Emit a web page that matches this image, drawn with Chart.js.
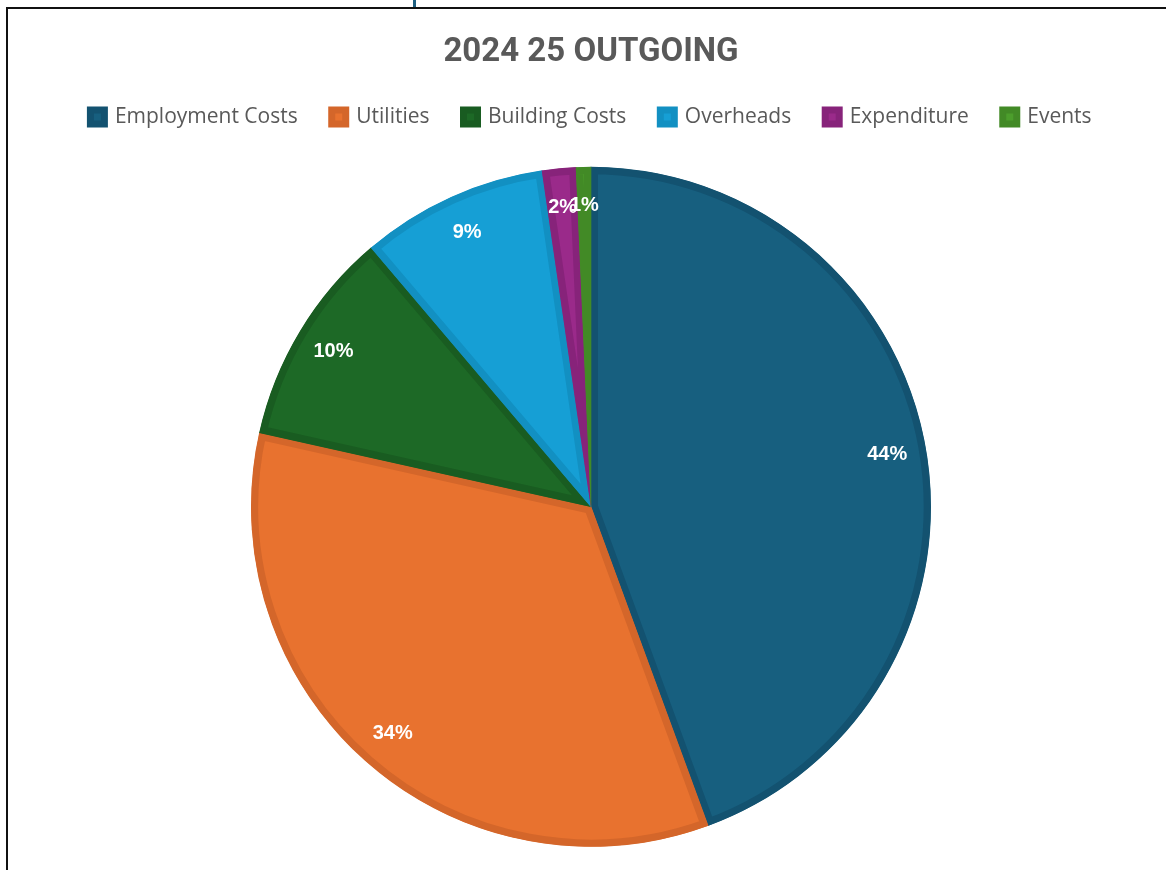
<!DOCTYPE html>
<html>
<head>
<meta charset="utf-8">
<script src="https://cdn.jsdelivr.net/npm/chart.js@4.4.1/dist/chart.umd.min.js"></script>
<style>
    html, body { margin: 0; padding: 0; background: #fff; }
    #wrap { position: relative; width: 1166px; height: 870px; overflow: hidden; }
    #frame { position: absolute; left: 6px; top: 7px; width: 1200px; height: 900px;
             border-left: 2px solid #111; border-top: 2px solid #111; }
    #tick { position: absolute; left: 413px; top: 0; width: 3px; height: 7px; background: #1d5f80; }
    #outgoingChart { position: absolute; left: 0; top: 0; }
</style>
</head>
<body>
<div id="wrap">
    <div id="frame"></div>
    <div id="tick"></div>
    <canvas id="outgoingChart" width="1166" height="880"></canvas>
</div>
<script>
const categories = ["Employment Costs", "Utilities", "Building Costs", "Overheads", "Expenditure", "Events"];
const outgoingShare = [44.4, 34.1, 10.3, 8.9, 1.6, 0.7];
const fillColours = ["#175f7f", "#e8722f", "#1d6926", "#169fd5", "#9a2a8a", "#4c9e2c"];
const edgeColours = ["#135270", "#d4662a", "#195c21", "#1290c2", "#87237a", "#428a26"];

// writes the percentage on each slice, like the spreadsheet data labels
const sliceLabels = {
    id: "sliceLabels",
    afterDatasetsDraw(chart) {
        const ctx = chart.ctx;
        const meta = chart.getDatasetMeta(0);
        const values = chart.data.datasets[0].data;
        const total = values.reduce((a, b) => a + b, 0);
        ctx.save();
        ctx.fillStyle = "#ffffff";
        ctx.font = "bold 20px 'Liberation Sans', Arial, sans-serif";
        ctx.textAlign = "center";
        ctx.textBaseline = "middle";
        meta.data.forEach((arc, i) => {
            const p = arc.getProps(["x", "y", "startAngle", "endAngle", "outerRadius"], true);
            const mid = (p.startAngle + p.endAngle) / 2;
            const r = p.outerRadius * 0.885;
            ctx.fillText(Math.round(values[i] / total * 100) + "%", p.x + Math.cos(mid) * r, p.y + Math.sin(mid) * r);
        });
        ctx.restore();
    }
};

const ctx = document.getElementById("outgoingChart").getContext("2d");
const outgoingChart = new Chart(ctx, {
    type: "pie",
    data: {
        labels: categories,
        datasets: [{
            data: outgoingShare,
            backgroundColor: fillColours,
            borderColor: edgeColours,
            borderWidth: 7,
            borderAlign: "inner",
        }],
    },
    options: {
        responsive: false,
        animation: false,
        radius: 340,
        layout: { padding: { left: 16, right: 0, top: 0, bottom: 4 } },
        plugins: {
            title: {
                display: true,
                text: "2024 25 OUTGOING",
                color: "#595959",
                font: { family: "Roboto", size: 33, weight: "bold" },
                padding: { top: 33, bottom: 0 }
            },
            legend: {
                position: "top",
                labels: {
                    color: "#595959",
                    font: { family: "Open Sans", size: 21 },
                    boxWidth: 14,
                    boxHeight: 14,
                    padding: 34,
                    useBorderRadius: false
                }
            },
            tooltip: { enabled: false }
        }
    },
    plugins: [sliceLabels]
});
</script>
</body>
</html>
